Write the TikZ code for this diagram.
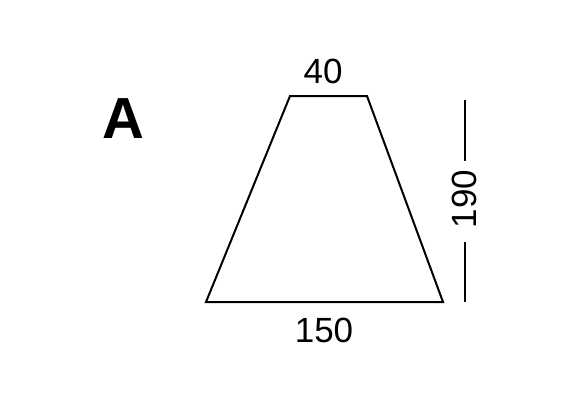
\documentclass[tikz,border=0pt]{standalone}
\usepackage{fontspec}
\setmainfont{Liberation Sans}
\begin{document}
\begin{tikzpicture}[x=1pt,y=-1pt,
  edge/.style={line width=2pt,line join=miter},
  dim/.style={font=\fontsize{35}{40}\selectfont,inner sep=0pt},
  tick/.style={line width=2pt}]
\useasboundingbox (0,0) rectangle (580,400);
\coordinate (tl) at (290,96);
\coordinate (tr) at (367,96);
\coordinate (br) at (443,302);
\coordinate (bl) at (206,302);
\draw[edge] (tl) -- (tr) -- (br) -- (bl) -- cycle;
\node[font=\fontsize{58}{60}\selectfont\bfseries,inner sep=0pt] (A) at (123,119) {A};
\node[dim] (t40) at (323,71) {40};
\node[dim] (t150) at (324,330) {150};
\node[dim,rotate=90] (t190) at (464,199) {190};
\coordinate (vt) at (465,100);
\coordinate (vb) at (465,302);
\draw[tick] (vt) -- (465,161);
\draw[tick] (465,242) -- (vb);
\end{tikzpicture}
\end{document}
